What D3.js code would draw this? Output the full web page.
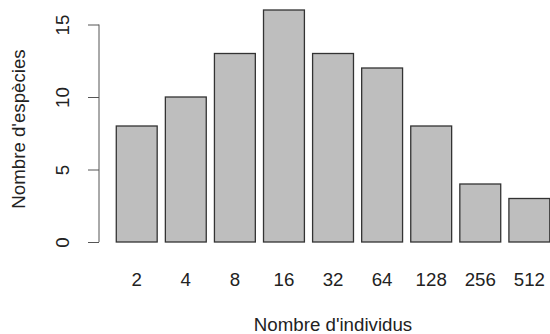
<!DOCTYPE html>
<html><head><meta charset="utf-8">
<script src="https://cdn.jsdelivr.net/npm/d3@7"></script>
<style>body{margin:0;background:#fff}svg{display:block}</style>
</head><body>
<script>
const categories = ["2","4","8","16","32","64","128","256","512"];
const counts = [8,10,13,16,13,12,8,4,3];
const yTicks = [0,5,10,15];
const xTitle = "Nombre d'individus";
const yTitle = "Nombre d'espècies";

const W = 550, H = 334;
const svg = d3.select("body").append("svg").attr("width", W).attr("height", H);
const font = "'Liberation Sans', Arial, sans-serif";
const fs = 18.7;

// R barplot: width 1, space 0.2
const x = d3.scaleLinear().domain([0, 10.8]).range([108.1, 549.8]);
const y = d3.scaleLinear().domain([0, 15]).range([242, 24.5]);

svg.append("g").selectAll("rect").data(counts).join("rect")
  .attr("x", (d,i) => x(0.2 + 1.2*i))
  .attr("width", x(1) - x(0))
  .attr("y", d => y(d))
  .attr("height", d => y(0) - y(d))
  .attr("fill", "#bebebe")
  .attr("stroke", "#333")
  .attr("stroke-width", 1.3);

// category labels
svg.append("g").selectAll("text").data(categories).join("text")
  .attr("x", (d,i) => x(0.7 + 1.2*i))
  .attr("y", 286)
  .attr("text-anchor", "middle")
  .attr("font-family", font).attr("font-size", fs).attr("fill", "#222")
  .text(d => d);

// y axis
const yAxis = d3.axisLeft(y).tickValues(yTicks).tickSize(11).tickPadding(0).tickFormat(d3.format("d"));
const ga = svg.append("g").attr("transform", "translate(99,0)").call(yAxis);
ga.select(".domain").attr("stroke", "#555").attr("d", `M0,${y(0)}V${y(15)}`);
ga.selectAll(".tick line").attr("stroke", "#555");
ga.selectAll(".tick text").remove();
ga.selectAll(".tick").append("text")
  .attr("transform", "translate(-30,0) rotate(-90)")
  .attr("text-anchor", "middle")
  .attr("fill", "#222")
  .attr("font-family", font).attr("font-size", fs)
  .text(d => d);

// titles
svg.append("text").attr("x", 333).attr("y", 331).attr("text-anchor", "middle")
  .attr("font-family", font).attr("font-size", fs).attr("fill", "#222").text(xTitle);
svg.append("text").attr("transform", "translate(25,129) rotate(-90)").attr("text-anchor", "middle")
  .attr("font-family", font).attr("font-size", fs).attr("fill", "#222").text(yTitle);
</script>
</body></html>
